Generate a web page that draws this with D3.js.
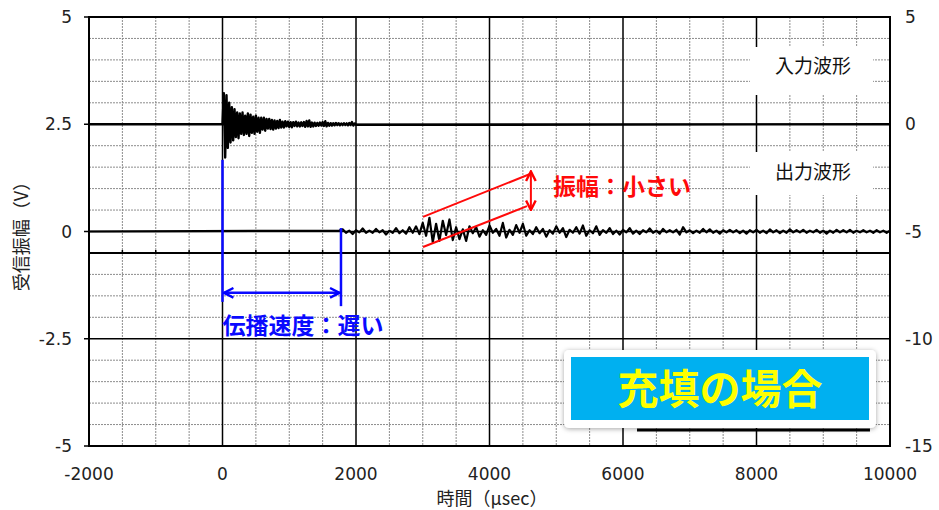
<!DOCTYPE html>
<html><head><meta charset="utf-8">
<script src="https://cdn.jsdelivr.net/npm/d3@7"></script>
<style>
html,body{margin:0;padding:0;background:#fff;}
svg{display:block;}
</style></head>
<body>
<svg id="chart" width="939" height="510"></svg>
<script>
// ---------------- data ----------------
const xTicks = [-2000, 0, 2000, 4000, 6000, 8000, 10000];
const yLeftTicks = [-5, -2.5, 0, 2.5, 5];
const yLeftTickLabels = ["-5", "-2.5", "0", "2.5", "5"];
const yRightTicks = [-15, -10, -5, 0, 5];
const xTitle = "時間（μsec）";
const yTitle = "受信振幅（V）";

// input waveform (right axis, V), sampled every 20 µs from 0 µs
const inputStart = 0;
const inputStep = 20;
const inputValues = [
  0, 1.45, -1.55, 1.35, -1.1, 1.0, -0.85, 0.8, -0.75, 0.7,
  -0.6, 0.55, -0.65, 0.5, -0.45, 0.55, -0.5, 0.4, -0.45, 0.5,
  -0.55, 0.45, -0.4, 0.35, -0.45, 0.4, -0.35, 0.3, -0.4, 0.3,
  -0.25, 0.3, -0.3, 0.25, -0.2, 0.25, -0.22, 0.2, -0.25, 0.18,
  -0.2, 0.15, -0.18, 0.2, -0.15, 0.12, -0.15, 0.14, -0.1, 0.12,
  -0.12, 0.1, -0.14, 0.1, -0.08, 0.12, -0.1, 0.08, -0.1, 0.09,
  -0.08, 0.1, -0.12, 0.15, -0.1, 0.18, -0.12, 0.08, -0.1, 0.07,
  -0.08, 0.06, -0.07, 0.08, -0.06, 0.1, -0.08, 0.14, -0.1, 0.06,
  -0.07, 0.05, -0.06, 0.05, -0.05, 0.06, -0.04, 0.05, -0.05, 0.04,
  -0.04, 0.05, -0.04, 0.04, -0.05, 0.06, -0.04, 0.1, -0.06, 0.04,
  -0.03
];

// output waveform (left axis, V), sampled every 50 µs from 1750 µs
const outputStart = 1750;
const outputStep = 50;
const outputValues = [
  0.02, 0.05, -0.03, 0.02, -0.06, 0.03, -0.02, 0.07, -0.03, 0.02,
  -0.03, 0.06, -0.02, 0.03, -0.07, 0.02, -0.03, 0.08, -0.04, 0.03,
  -0.05, 0.1, -0.03, 0.12, -0.06, 0.2, -0.1, 0.32, -0.25, 0.18,
  -0.22, 0.25, -0.08, 0.28, -0.2, 0.1, -0.18, 0.05, -0.22, 0.12,
  -0.04, 0.1, -0.12, 0.03, -0.08, 0.14, -0.03, 0.06, -0.1, 0.2,
  -0.14, 0.04, -0.08, 0.15, -0.03, 0.18, -0.1, 0.03, -0.06, 0.1,
  -0.04, 0.06, -0.12, 0.03, -0.05, 0.12, -0.03, 0.08, -0.13, 0.04,
  -0.03, 0.1, -0.05, 0.14, -0.1, 0.03, -0.04, 0.12, -0.08, 0.03,
  -0.03, 0.08, -0.06, 0.02, -0.07, 0.04, -0.02, 0.08, -0.05, 0.02,
  -0.06, 0.03, -0.02, 0.07, -0.03, 0.02, -0.05, 0.06, -0.02, 0.03,
  -0.02, 0.04, -0.07, 0.1, -0.02, 0.03, -0.04, 0.02, -0.03, 0.06,
  -0.02, 0.05, -0.03, 0.02, -0.05, 0.03, -0.02, 0.04, -0.02, 0.03,
  -0.04, 0.02, -0.05, 0.03, -0.02, 0.04, -0.03, 0.02, -0.04, 0.05,
  -0.02, 0.03, -0.04, 0.02, -0.03, 0.05, -0.02, 0.03, -0.02, 0.04,
  -0.03, 0.02, -0.02, 0.04, -0.03, 0.02, -0.05, 0.02, -0.03, 0.04,
  -0.02, 0.03, -0.02, 0.04, -0.03, 0.02, -0.02, 0.03, -0.02, 0.02,
  -0.03, 0.03, -0.02, 0.02, -0.03, 0.02
];

const labelInput = "入力波形";
const labelOutput = "出力波形";
const labelSpeed = "伝播速度：遅い";
const labelAmp = "振幅：小さい";
const labelCase = "充填の場合";

// ---------------- drawing ----------------
const svg = d3.select("#chart");
const L = 89, R = 890, T = 17, B = 446;
const x = d3.scaleLinear().domain([-2000, 10000]).range([L, R]);
const yL = d3.scaleLinear().domain([-5, 5]).range([B, T]);
const yR = d3.scaleLinear().domain([-15, 5]).range([B, T]);
const numFont = "'DejaVu Sans', sans-serif";
const jpFont = "'Noto Sans CJK JP', 'Noto Sans', sans-serif";

// minor grid
const g = svg.append("g");
g.selectAll("line.vmin").data(d3.range(-2000, 10001, 500).filter(v => v % 2000 !== 0))
  .join("line").attr("x1", d => x(d)).attr("x2", d => x(d)).attr("y1", T).attr("y2", B)
  .attr("stroke", "#8c8c8c").attr("stroke-width", 1).attr("stroke-dasharray", "2,1");
g.selectAll("line.hmin").data(d3.range(-5, 5.001, 0.5).filter(v => Math.abs(v / 2.5 - Math.round(v / 2.5)) > 1e-6))
  .join("line").attr("x1", L).attr("x2", R).attr("y1", d => yL(d)).attr("y2", d => yL(d))
  .attr("stroke", "#8c8c8c").attr("stroke-width", 1).attr("stroke-dasharray", "2,1");
// major grid
g.selectAll("line.vmaj").data(xTicks.slice(1, -1))
  .join("line").attr("x1", d => x(d)).attr("x2", d => x(d)).attr("y1", T).attr("y2", B)
  .attr("stroke", "#000").attr("stroke-width", 1.5);
g.selectAll("line.hmaj").data(yLeftTicks.slice(1, -1))
  .join("line").attr("x1", L).attr("x2", R).attr("y1", d => yL(d)).attr("y2", d => yL(d))
  .attr("stroke", "#000").attr("stroke-width", 1.5);

// secondary baseline axis (output time axis) with small ticks
const secLevel = -0.5;
svg.append("line").attr("x1", L).attr("x2", R).attr("y1", yL(secLevel)).attr("y2", yL(secLevel))
  .attr("stroke", "#000").attr("stroke-width", 2);
svg.selectAll("line.sect").data(d3.range(-2000, 10001, 500))
  .join("line").attr("x1", d => x(d)).attr("x2", d => x(d))
  .attr("y1", yL(secLevel)).attr("y2", yL(secLevel) - 3)
  .attr("stroke", "#000").attr("stroke-width", 1.5);

// frame
svg.append("rect").attr("x", L).attr("y", T).attr("width", R - L).attr("height", B - T)
  .attr("fill", "none").attr("stroke", "#000").attr("stroke-width", 2);

// left ticks
svg.selectAll("line.lt").data(yLeftTicks).join("line")
  .attr("x1", L - 5).attr("x2", L).attr("y1", d => yL(d)).attr("y2", d => yL(d))
  .attr("stroke", "#000").attr("stroke-width", 1.5);

// tick labels
svg.selectAll("text.yl").data(yLeftTicks).join("text")
  .attr("x", 72).attr("y", d => yL(d)).attr("dy", "0.36em").attr("text-anchor", "end")
  .attr("font-family", numFont).attr("font-size", 17).attr("fill", "#222")
  .text((d, i) => yLeftTickLabels[i]);
svg.selectAll("text.yr").data(yRightTicks).join("text")
  .attr("x", 905).attr("y", d => yR(d)).attr("dy", "0.36em").attr("text-anchor", "start")
  .attr("font-family", numFont).attr("font-size", 17).attr("fill", "#222")
  .text(d => d3.format("d")(d).replace("−", "-"));
svg.selectAll("text.xl").data(xTicks).join("text")
  .attr("x", d => x(d)).attr("y", 474).attr("dy", "0.36em").attr("text-anchor", "middle")
  .attr("font-family", numFont).attr("font-size", 17).attr("fill", "#222")
  .text(d => d3.format("d")(d).replace("−", "-"));

// axis titles
svg.append("text").attr("x", 492).attr("y", 499).attr("dy", "0.36em").attr("text-anchor", "middle")
  .attr("font-family", jpFont).attr("font-size", 18).attr("fill", "#222").text(xTitle);
svg.append("text").attr("transform", "translate(22,232) rotate(-90)").attr("dy", "0.36em")
  .attr("text-anchor", "middle").attr("font-family", jpFont).attr("font-size", 18)
  .attr("fill", "#222").text(yTitle);

// waveforms
const inputPts = [[-2000, 0]].concat(inputValues.map((v, i) => [inputStart + i * inputStep, v]), [[10000, 0]]);
const outputPts = [[-2000, 0]].concat(outputValues.map((v, i) => [outputStart + i * outputStep, v]));
svg.append("path").datum(inputPts)
  .attr("d", d3.line().x(d => x(d[0])).y(d => yR(d[1])))
  .attr("fill", "none").attr("stroke", "#000").attr("stroke-width", 2.4).attr("stroke-linejoin", "round");
svg.append("path").datum(outputPts)
  .attr("d", d3.line().x(d => x(d[0])).y(d => yL(d[1])))
  .attr("fill", "none").attr("stroke", "#000").attr("stroke-width", 2.2).attr("stroke-linejoin", "round");

// markers
const defs = svg.append("defs");
function marker(id, color) {
  defs.append("marker").attr("id", id).attr("viewBox", "0 0 10 10").attr("refX", 9).attr("refY", 5)
    .attr("orient", "auto-start-reverse")
    .attr("markerUnits", "userSpaceOnUse").attr("markerWidth", 12).attr("markerHeight", 12)
    .append("path").attr("d", "M1,1 L9,5 L1,9").attr("fill", "none").attr("stroke", color).attr("stroke-width", 2);
}
marker("ab", "#0000ff");
marker("ar", "#ff0000");

// blue annotation (propagation speed)
const blue = "#0a0aff";
svg.append("line").attr("x1", x(0)).attr("x2", x(0)).attr("y1", yL(1.67)).attr("y2", yL(-1.64))
  .attr("stroke", blue).attr("stroke-width", 2.5);
svg.append("line").attr("x1", x(1775)).attr("x2", x(1775)).attr("y1", yL(0.08)).attr("y2", yL(-1.74))
  .attr("stroke", blue).attr("stroke-width", 2.5);
svg.append("line").attr("x1", x(20)).attr("x2", x(1755)).attr("y1", yL(-1.43)).attr("y2", yL(-1.43))
  .attr("stroke", blue).attr("stroke-width", 2.5)
  .attr("marker-start", "url(#ab)").attr("marker-end", "url(#ab)");
svg.append("text").attr("x", x(0)).attr("y", yL(-2.2)).attr("dy", "0.36em")
  .attr("font-family", jpFont).attr("font-weight", 700).attr("font-size", 23).attr("fill", blue)
  .text(labelSpeed);

// red annotation (amplitude)
const red = "#ff0a0a";
svg.append("line").attr("x1", x(3004)).attr("x2", x(4607)).attr("y1", yL(0.34)).attr("y2", yL(1.34))
  .attr("stroke", red).attr("stroke-width", 2);
svg.append("line").attr("x1", x(3004)).attr("x2", x(4562)).attr("y1", yL(-0.36)).attr("y2", yL(0.59))
  .attr("stroke", red).attr("stroke-width", 2);
svg.append("line").attr("x1", x(4620)).attr("x2", x(4620)).attr("y1", yL(1.4)).attr("y2", yL(0.5))
  .attr("stroke", red).attr("stroke-width", 2)
  .attr("marker-start", "url(#ar)").attr("marker-end", "url(#ar)");
svg.append("text").attr("x", 553).attr("y", 187).attr("dy", "0.36em")
  .attr("font-family", jpFont).attr("font-weight", 700).attr("font-size", 23).attr("fill", red)
  .text(labelAmp);

// waveform labels with white backgrounds
[[labelInput, 66, 47, 95], [labelOutput, 172, 152, 195]].forEach(([t, cy, y0, y1]) => {
  svg.append("rect").attr("x", 750).attr("y", y0).attr("width", 123).attr("height", y1 - y0).attr("fill", "#fff");
  svg.append("text").attr("x", 813).attr("y", cy).attr("dy", "0.36em").attr("text-anchor", "middle")
    .attr("font-family", jpFont).attr("font-size", 19).attr("fill", "#111").text(t);
});

// stray thick line beneath the case box
svg.append("line").attr("x1", x(6210)).attr("x2", x(9700)).attr("y1", 430).attr("y2", 430)
  .attr("stroke", "#000").attr("stroke-width", 3);

// case box
const filt = defs.append("filter").attr("id", "sh").attr("x", "-10%").attr("y", "-20%").attr("width", "120%").attr("height", "150%");
filt.append("feDropShadow").attr("dx", 0).attr("dy", 1).attr("stdDeviation", 2.5).attr("flood-color", "#000").attr("flood-opacity", 0.35);
svg.append("rect").attr("x", 564).attr("y", 350).attr("width", 312).attr("height", 78).attr("rx", 5)
  .attr("fill", "#fff").attr("filter", "url(#sh)");
svg.append("rect").attr("x", 571).attr("y", 357).attr("width", 298).attr("height", 63).attr("fill", "#00b0f0");
svg.append("text").attr("x", 720).attr("y", 389).attr("dy", "0.36em").attr("text-anchor", "middle")
  .attr("font-family", jpFont).attr("font-weight", 700).attr("font-size", 41).attr("fill", "#ffff00")
  .text(labelCase);
</script>
</body></html>
